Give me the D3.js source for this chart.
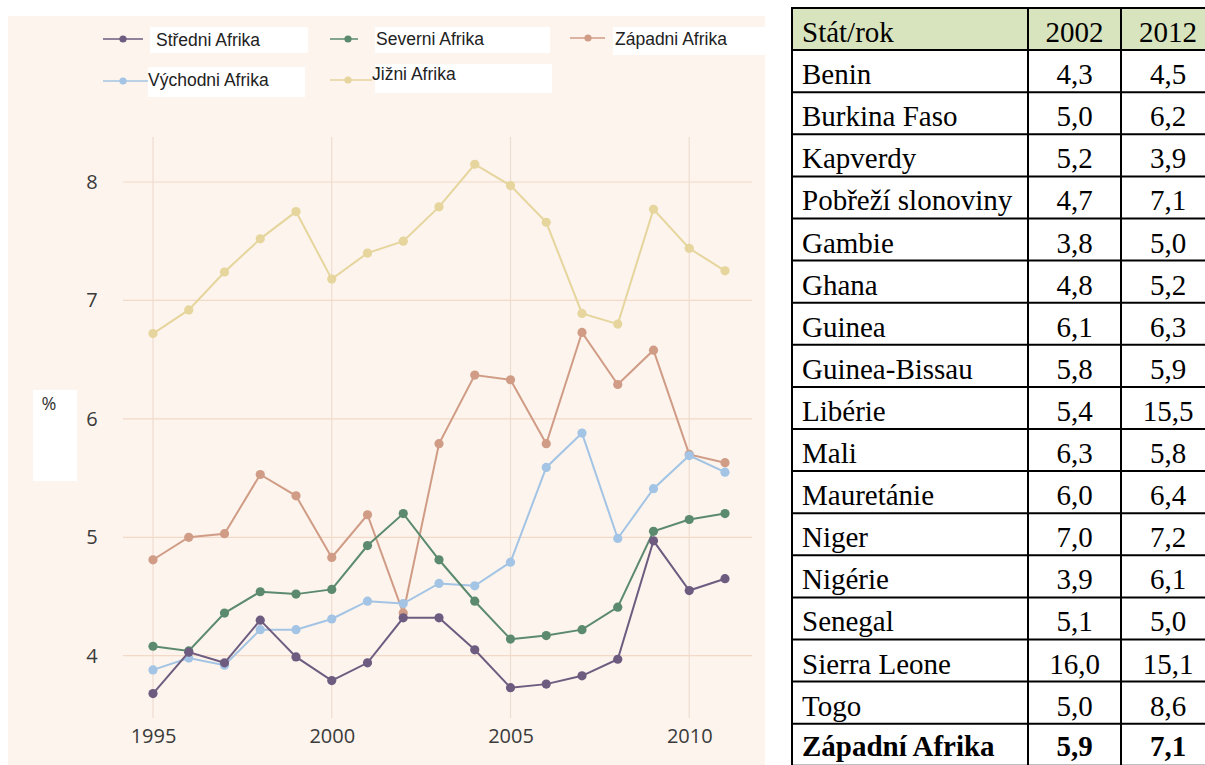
<!DOCTYPE html>
<html>
<head>
<meta charset="utf-8">
<script src="https://cdn.jsdelivr.net/npm/d3@7/dist/d3.min.js"></script>
<style>
  html, body { margin: 0; padding: 0; background: #ffffff; overflow: hidden; }
  svg { display: block; }
</style>
</head>
<body>
<svg id="chart" width="1205" height="765"></svg>
<script>
// ---------- DATA ----------
const years = [1995,1996,1997,1998,1999,2000,2001,2002,2003,2004,2005,2006,2007,2008,2009,2010,2011];
const seriesNames = ["Středni Afrika","Severni Afrika","Západni Afrika","Východni Afrika","Jižni Afrika"];
const stredni  = [3.68,4.03,3.94,4.30,3.99,3.79,3.94,4.32,4.32,4.05,3.73,3.76,3.83,3.97,4.97,4.55,4.65];
const severni  = [4.08,4.04,4.36,4.54,4.52,4.56,4.93,5.20,4.81,4.46,4.14,4.17,4.22,4.41,5.05,5.15,5.20];
const zapadni  = [4.81,5.00,5.03,5.53,5.35,4.83,5.19,4.36,5.79,6.37,6.33,5.79,6.73,6.29,6.58,5.70,5.63];
const vychodni = [3.88,3.98,3.92,4.22,4.22,4.31,4.46,4.44,4.61,4.59,4.79,5.59,5.88,4.99,5.41,5.69,5.55];
const jizni    = [6.72,6.92,7.24,7.52,7.75,7.18,7.40,7.50,7.79,8.15,7.97,7.66,6.89,6.80,7.77,7.44,7.25];
const yTicks = [4,5,6,7,8];
const xTicks = [1995,2000,2005,2010];
const yAxisLabel = "%";

const tableHeader = ["Stát/rok","2002","2012"];
const countries = ["Benin","Burkina Faso","Kapverdy","Pobřeží slonoviny","Gambie","Ghana","Guinea","Guinea-Bissau","Libérie","Mali","Mauretánie","Niger","Nigérie","Senegal","Sierra Leone","Togo","Západní Afrika"];
const val2002 = ["4,3","5,0","5,2","4,7","3,8","4,8","6,1","5,8","5,4","6,3","6,0","7,0","3,9","5,1","16,0","5,0","5,9"];
const val2012 = ["4,5","6,2","3,9","7,1","5,0","5,2","6,3","5,9","15,5","5,8","6,4","7,2","6,1","5,0","15,1","8,6","7,1"];

// ---------- STYLE ----------
const colors = {
  "Středni Afrika": "#6e5c80",
  "Severni Afrika": "#5b8a6f",
  "Západni Afrika": "#d09c86",
  "Východni Afrika": "#a3c4e4",
  "Jižni Afrika": "#e6d59c"
};
const seriesData = {
  "Středni Afrika": stredni,
  "Severni Afrika": severni,
  "Západni Afrika": zapadni,
  "Východni Afrika": vychodni,
  "Jižni Afrika": jizni
};

const svg = d3.select("#chart");

// panel background
svg.append("rect").attr("x", 8).attr("y", 16).attr("width", 757).attr("height", 760).attr("fill", "#fcf4ed");

const x = d3.scaleLinear().domain([1995, 2011]).range([153, 725]);
const y = d3.scaleLinear().domain([4, 8]).range([655.7, 182]);

// gridlines
const grid = svg.append("g");
grid.selectAll("line.v").data(xTicks).join("line")
  .attr("x1", d => x(d)).attr("x2", d => x(d))
  .attr("y1", 137).attr("y2", 718)
  .attr("stroke", "#efdcd0").attr("stroke-width", 1.2);
grid.selectAll("line.h").data(yTicks).join("line")
  .attr("x1", 123).attr("x2", 752)
  .attr("y1", d => y(d)).attr("y2", d => y(d))
  .attr("stroke", "#f2d9c8").attr("stroke-width", 1.2);

// axes labels via d3 axes (no domain/ticks lines)
const xAxis = svg.append("g").attr("transform", "translate(0,736)")
  .call(d3.axisBottom(x).tickValues(xTicks).tickFormat(d3.format("d")).tickSize(0));
xAxis.select(".domain").remove();
xAxis.selectAll("text").attr("font-family", "Open Sans, sans-serif").attr("font-size", 20).attr("fill", "#3a3a3a").attr("dy", "0.2em");

const yAxis = svg.append("g").attr("transform", "translate(105,0)")
  .call(d3.axisLeft(y).tickValues(yTicks).tickFormat(d3.format("d")).tickSize(0));
yAxis.select(".domain").remove();
yAxis.selectAll("text").attr("font-family", "Open Sans, sans-serif").attr("font-size", 20).attr("fill", "#3a3a3a").attr("text-anchor", "middle").attr("dx", "-0.5em");

// % label box
svg.append("rect").attr("x", 33).attr("y", 390).attr("width", 44).attr("height", 91).attr("fill", "#ffffff");
svg.append("text").attr("x", 49).attr("y", 410).attr("text-anchor", "middle")
  .attr("font-family", "Open Sans, sans-serif").attr("font-size", 18).attr("fill", "#333").text(yAxisLabel);

// lines
const line = d3.line().x((d, i) => x(years[i])).y(d => y(d));
const drawOrder = ["Jižni Afrika","Západni Afrika","Východni Afrika","Severni Afrika","Středni Afrika"];
drawOrder.forEach(name => {
  const g = svg.append("g");
  g.append("path").datum(seriesData[name]).attr("d", line)
    .attr("fill", "none").attr("stroke", colors[name]).attr("stroke-width", 2);
  g.selectAll("circle").data(seriesData[name]).join("circle")
    .attr("cx", (d, i) => x(years[i])).attr("cy", d => y(d)).attr("r", 4.6)
    .attr("fill", colors[name]);
});

// legend
const legendItems = [
  {name: "Středni Afrika", box: [150,27,158,26], lx1: 103, lx2: 143, dot: 123, ly: 39, tx: 156, ty: 46},
  {name: "Severni Afrika", box: [375,27,175,26], lx1: 330, lx2: 358, dot: 348, ly: 39, tx: 376, ty: 45},
  {name: "Západni Afrika", box: [613,27,152,28], lx1: 570, lx2: 605, dot: 588, ly: 38, tx: 615, ty: 45},
  {name: "Východni Afrika", box: [148,67,157,30], lx1: 103, lx2: 148, dot: 123, ly: 81, tx: 148, ty: 86},
  {name: "Jižni Afrika", box: [375,64,177,29], lx1: 330, lx2: 372, dot: 348, ly: 80, tx: 372, ty: 80}
];
const leg = svg.append("g");
legendItems.forEach(it => {
  leg.append("rect").attr("x", it.box[0]).attr("y", it.box[1]).attr("width", it.box[2]).attr("height", it.box[3]).attr("fill", "#ffffff");
  leg.append("line").attr("x1", it.lx1).attr("x2", it.lx2).attr("y1", it.ly).attr("y2", it.ly)
    .attr("stroke", colors[it.name]).attr("stroke-width", 1.5);
  leg.append("circle").attr("cx", it.dot).attr("cy", it.ly).attr("r", 3.6).attr("fill", colors[it.name]);
  leg.append("text").attr("x", it.tx).attr("y", it.ty)
    .attr("font-family", "Liberation Sans, Arial, sans-serif").attr("font-size", 17.5).attr("fill", "#222")
    .text(it.name);
});

// ---------- TABLE ----------
const tLeft = 792, c1 = 1028, c2 = 1121, tRight = 1215, tTop = 8, rowH = 42.1;
const nRows = countries.length + 1;
const tbl = svg.append("g");
tbl.append("rect").attr("x", tLeft).attr("y", tTop).attr("width", tRight - tLeft).attr("height", rowH).attr("fill", "#d8e4bd");
const rowsAll = [tableHeader].concat(countries.map((c, i) => [c, val2002[i], val2012[i]]));
const serif = "Liberation Serif, Times New Roman, serif";
rowsAll.forEach((r, i) => {
  const top = tTop + i * rowH;
  const bold = (i === rowsAll.length - 1);
  const fw = bold ? "bold" : "normal";
  const by = bold ? top + 32 : top + 34;
  tbl.append("text").attr("x", 802).attr("y", by).attr("font-family", serif)
    .attr("font-size", 29).attr("font-weight", fw).attr("fill", "#000").text(r[0]);
  tbl.append("text").attr("x", (c1 + c2) / 2).attr("y", by).attr("text-anchor", "middle").attr("font-family", serif)
    .attr("font-size", 29).attr("font-weight", fw).attr("fill", "#000").text(r[1]);
  tbl.append("text").attr("x", (c2 + tRight) / 2).attr("y", by).attr("text-anchor", "middle").attr("font-family", serif)
    .attr("font-size", 29).attr("font-weight", fw).attr("fill", "#000").text(r[2]);
});
// borders
for (let i = 0; i <= nRows; i++) {
  tbl.append("line").attr("x1", tLeft).attr("x2", tRight).attr("y1", tTop + i * rowH).attr("y2", tTop + i * rowH)
    .attr("stroke", "#000").attr("stroke-width", 2);
}
[tLeft, c1, c2, tRight].forEach(cx => {
  tbl.append("line").attr("x1", cx).attr("x2", cx).attr("y1", tTop - 1).attr("y2", tTop + nRows * rowH + 1)
    .attr("stroke", "#000").attr("stroke-width", 2);
});
</script>
</body>
</html>
